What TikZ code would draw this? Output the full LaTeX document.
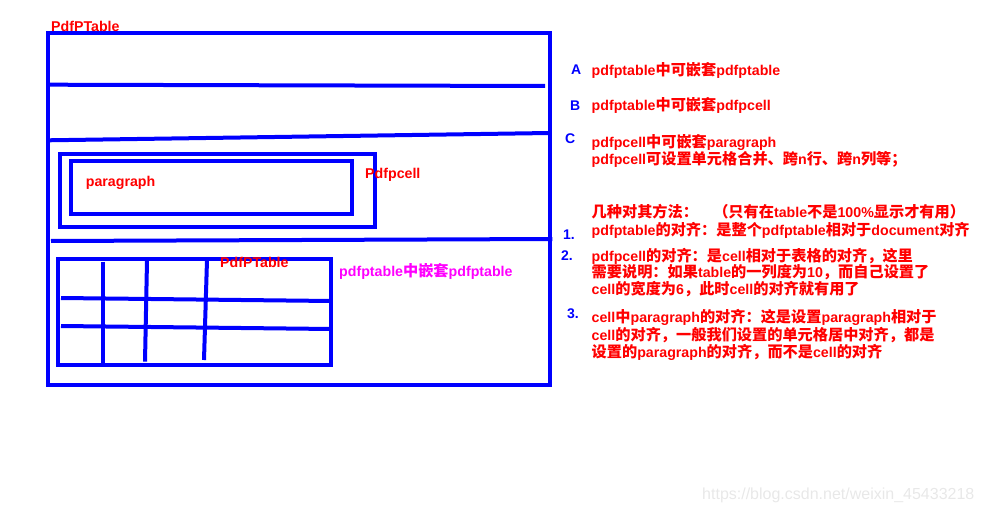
\documentclass[tikz,border=0pt]{standalone}
\usepackage{fontspec}
\setmainfont{Liberation Sans}
\newfontfamily\latf{Liberation Sans}
\newfontfamily\cjk{Noto Sans CJK SC}[Scale=1.07]
\XeTeXinterchartokenstate=1
\chardef\CJKcls=10
\newcount\cjkc
\cjkc="3000 \loop\XeTeXcharclass\cjkc=\CJKcls\advance\cjkc by 1 \ifnum\cjkc<"3040 \repeat
\cjkc="4E00 \loop\XeTeXcharclass\cjkc=\CJKcls\advance\cjkc by 1 \ifnum\cjkc<"A000 \repeat
\cjkc="FF00 \loop\XeTeXcharclass\cjkc=\CJKcls\advance\cjkc by 1 \ifnum\cjkc<"FFF0 \repeat
\XeTeXinterchartoks 0 \CJKcls = {\cjk}
\XeTeXinterchartoks 4095 \CJKcls = {\cjk}
\XeTeXinterchartoks \CJKcls 0 = {\latf}
\definecolor{pblue}{RGB}{0,0,255}
\definecolor{pred}{RGB}{255,0,0}
\definecolor{pmag}{RGB}{255,0,255}
\definecolor{wmark}{RGB}{232,232,232}
\tikzset{
  bl/.style={draw=pblue, line width=4pt},
  rtxt/.style={text=pred, font=\fontsize{14.2}{17}\selectfont\bfseries, inner sep=0pt, anchor=base west},
  mtxt/.style={text=pmag, font=\fontsize{14.2}{17}\selectfont\bfseries, inner sep=0pt, anchor=base west},
  lbl/.style={text=pblue, font=\fontsize{14}{17}\selectfont\bfseries, inner sep=0pt, anchor=base west},
}
\begin{document}
\begin{tikzpicture}[x=1pt, y=-1pt]
\useasboundingbox (0,0) rectangle (982,513);
% outer table
\draw[bl] (48,33) rectangle (549.5,384.7);
\draw[bl] (48,84.7) -- (545,86);
\draw[bl] (48,140.3) -- (549.5,133);
\draw[bl] (51,241) -- (552.3,239);
% pdfpcell and paragraph boxes
\draw[bl] (60.3,154.3) rectangle (374.7,227.3);
\draw[bl] (71.3,161) rectangle (351.7,214.3);
% nested table
\draw[bl] (58,258.7) rectangle (331.3,364.7);
\draw[bl] (61,298) -- (331.3,301);
\draw[bl] (61,326) -- (331.3,329);
\draw[bl] (103,261.7) -- (103,364.7);
\draw[bl] (147,260.7) -- (145,361.7);
\draw[bl] (207,260) -- (204,360);
% labels in the drawing
\node[rtxt] (t1) at (51,31.7) {PdfPTable};
\node[rtxt] (par) at (85.7,186.5) {paragraph};
\node[rtxt] (cell) at (365,179) {Pdfpcell};
\node[rtxt] (t2) at (220,267.5) {PdfPTable};
\node[mtxt] (nest) at (339,276) {pdfptable中嵌套pdfptable};
% right side notes
\node[lbl] (la) at (571,75) {A};
\node[lbl] (lb) at (570,110.5) {B};
\node[lbl] (lc) at (565,144) {C};
\node[rtxt] (ta) at (591.5,75.5) {pdfptable中可嵌套pdfptable};
\node[rtxt] (tb) at (591.5,111) {pdfptable中可嵌套pdfpcell};
\node[rtxt] (tc1) at (591.5,147.5) {pdfpcell中可嵌套paragraph};
\node[rtxt] (tc2) at (591.5,165) {pdfpcell可设置单元格合并、跨n行、跨n列等；};
\node[rtxt] (th) at (591.5,217.5) {几种对其方法：　（只有在table不是100\%显示才有用）};
\node[lbl] (l1) at (563,240) {1.};
\node[lbl] (l2) at (561,260) {2.};
\node[lbl] (l3) at (567,318) {3.};
\node[rtxt] (t1a) at (591.5,236) {pdfptable的对齐：是整个pdfptable相对于document对齐};
\node[rtxt] (t2a) at (591.5,261.5) {pdfpcell的对齐：是cell相对于表格的对齐，这里};
\node[rtxt] (t2b) at (591.5,277) {需要说明：如果table的一列度为10，而自己设置了};
\node[rtxt] (t2c) at (591.5,294) {cell的宽度为6，此时cell的对齐就有用了};
\node[rtxt] (t3a) at (591.5,322) {cell中paragraph的对齐：这是设置paragraph相对于};
\node[rtxt] (t3b) at (591.5,340.5) {cell的对齐，一般我们设置的单元格居中对齐，都是};
\node[rtxt] (t3c) at (591.5,357) {设置的paragraph的对齐，而不是cell的对齐};
% watermark
\node[text=wmark, font=\fontsize{16}{18}\selectfont, inner sep=0pt, anchor=base west] (wm) at (702,499) {https://blog.csdn.net/weixin\_45433218};
\end{tikzpicture}
\end{document}
